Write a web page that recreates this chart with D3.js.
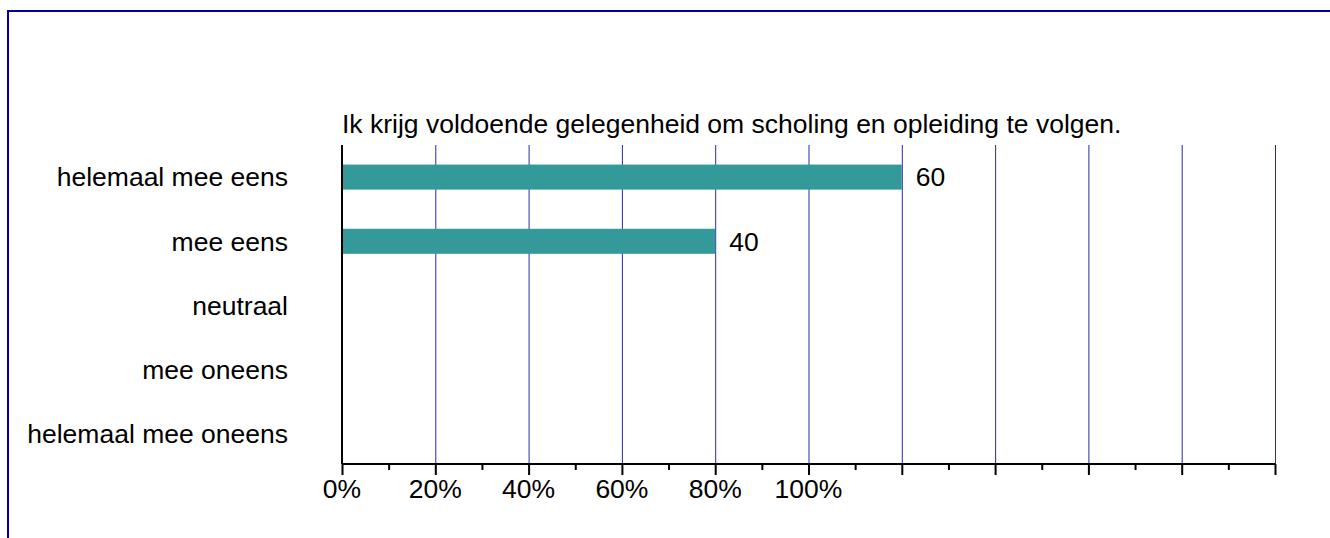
<!DOCTYPE html>
<html>
<head>
<meta charset="utf-8">
<script src="https://cdn.jsdelivr.net/npm/d3@7"></script>
<style>
  body { margin: 0; background: #fff; }
  text { font-family: "Liberation Sans", Arial, sans-serif; fill: #000; }
</style>
</head>
<body>
<div id="chart"></div>
<script>
// Chart Data
var title = "Ik krijg voldoende gelegenheid om scholing en opleiding te volgen.";
var categories = ["helemaal mee eens", "mee eens", "neutraal", "mee oneens", "helemaal mee oneens"];
var values = [60, 40, 0, 0, 0];
var tickLabels = ["0%", "20%", "40%", "60%", "80%", "100%"];

// Page Size
var width = 1330;
var height = 538;

// Plot Area
var plotLeft = 342;
var plotRight = 1275;
var plotTop = 145;
var plotBottom = 464;

var fontSize = 26.5;

var svg = d3.select("#chart")
  .append("svg")
  .attr("width", width)
  .attr("height", height);

// Frame (top and left only)
svg.append("path")
  .attr("d", "M8,538 V11 H1330")
  .attr("fill", "none")
  .attr("stroke", "#0000a0")
  .attr("stroke-width", 2);

// X Scale
var xScale = d3.scaleLinear()
  .domain([0, 100])
  .range([plotLeft, plotRight]);

// Y Scale (one row per category)
var yScale = d3.scaleBand()
  .domain(categories)
  .range([plotTop, plotBottom + 2])
  .paddingInner(0.61)
  .paddingOuter(0.305);

function rowMid(d) {
  return yScale(d) + yScale.bandwidth() / 2;
}

// Grid Lines
svg.append("g")
  .selectAll("line")
  .data(d3.range(10, 101, 10))
  .enter()
  .append("line")
  .attr("x1", function(d) { return xScale(d) + 0.5; })
  .attr("x2", function(d) { return xScale(d) + 0.5; })
  .attr("y1", plotTop)
  .attr("y2", plotBottom)
  .attr("stroke", "#2a2aa8")
  .attr("stroke-width", 1);

// Bars
svg.append("g")
  .selectAll("rect")
  .data(values)
  .enter()
  .append("rect")
  .attr("x", xScale(0))
  .attr("y", function(d, i) { return yScale(categories[i]); })
  .attr("width", function(d) { return xScale(d) - xScale(0); })
  .attr("height", yScale.bandwidth())
  .attr("fill", "#339a99");

// Value Labels
svg.append("g")
  .selectAll("text")
  .data(values.filter(function(d) { return d > 0; }))
  .enter()
  .append("text")
  .attr("x", function(d) { return xScale(d) + 14; })
  .attr("y", function(d, i) { return rowMid(categories[i]); })
  .attr("dy", "0.35em")
  .attr("font-size", fontSize + "px")
  .text(function(d) { return d; });

// X Axis with major and minor ticks
var xAxis = d3.axisBottom(xScale)
  .tickValues(d3.range(0, 101, 10))
  .tickSize(11)
  .tickFormat("");

var xMinor = d3.axisBottom(xScale)
  .tickValues(d3.range(5, 100, 10))
  .tickSize(6)
  .tickFormat("");

svg.append("g")
  .attr("transform", "translate(0," + plotBottom + ")")
  .call(xMinor)
  .call(function(g) { g.select(".domain").remove(); })
  .selectAll("line").attr("stroke", "#000").attr("stroke-width", 2);

svg.append("g")
  .attr("transform", "translate(0," + plotBottom + ")")
  .call(xAxis)
  .call(function(g) {
    g.select(".domain").attr("d", "M" + plotLeft + ",0H" + plotRight).attr("stroke", "#000").attr("stroke-width", 2);
    g.selectAll("line").attr("stroke", "#000").attr("stroke-width", 2);
  });

// Tick Labels (only the first six ticks carry a label)
svg.append("g")
  .selectAll("text")
  .data(tickLabels)
  .enter()
  .append("text")
  .attr("x", function(d, i) { return xScale(i * 10); })
  .attr("y", 498)
  .attr("text-anchor", "middle")
  .attr("font-size", fontSize + "px")
  .text(function(d) { return d; });

// Y Axis Line
svg.append("line")
  .attr("x1", plotLeft)
  .attr("x2", plotLeft)
  .attr("y1", plotTop)
  .attr("y2", plotBottom)
  .attr("stroke", "#000")
  .attr("stroke-width", 2);

// Category Labels
svg.append("g")
  .selectAll("text")
  .data(categories)
  .enter()
  .append("text")
  .attr("x", 288)
  .attr("y", rowMid)
  .attr("dy", "0.35em")
  .attr("text-anchor", "end")
  .attr("font-size", fontSize + "px")
  .text(function(d) { return d; });

// Title
svg.append("text")
  .attr("x", plotLeft)
  .attr("y", 133)
  .attr("font-size", fontSize + "px")
  .text(title);
</script>
</body>
</html>
